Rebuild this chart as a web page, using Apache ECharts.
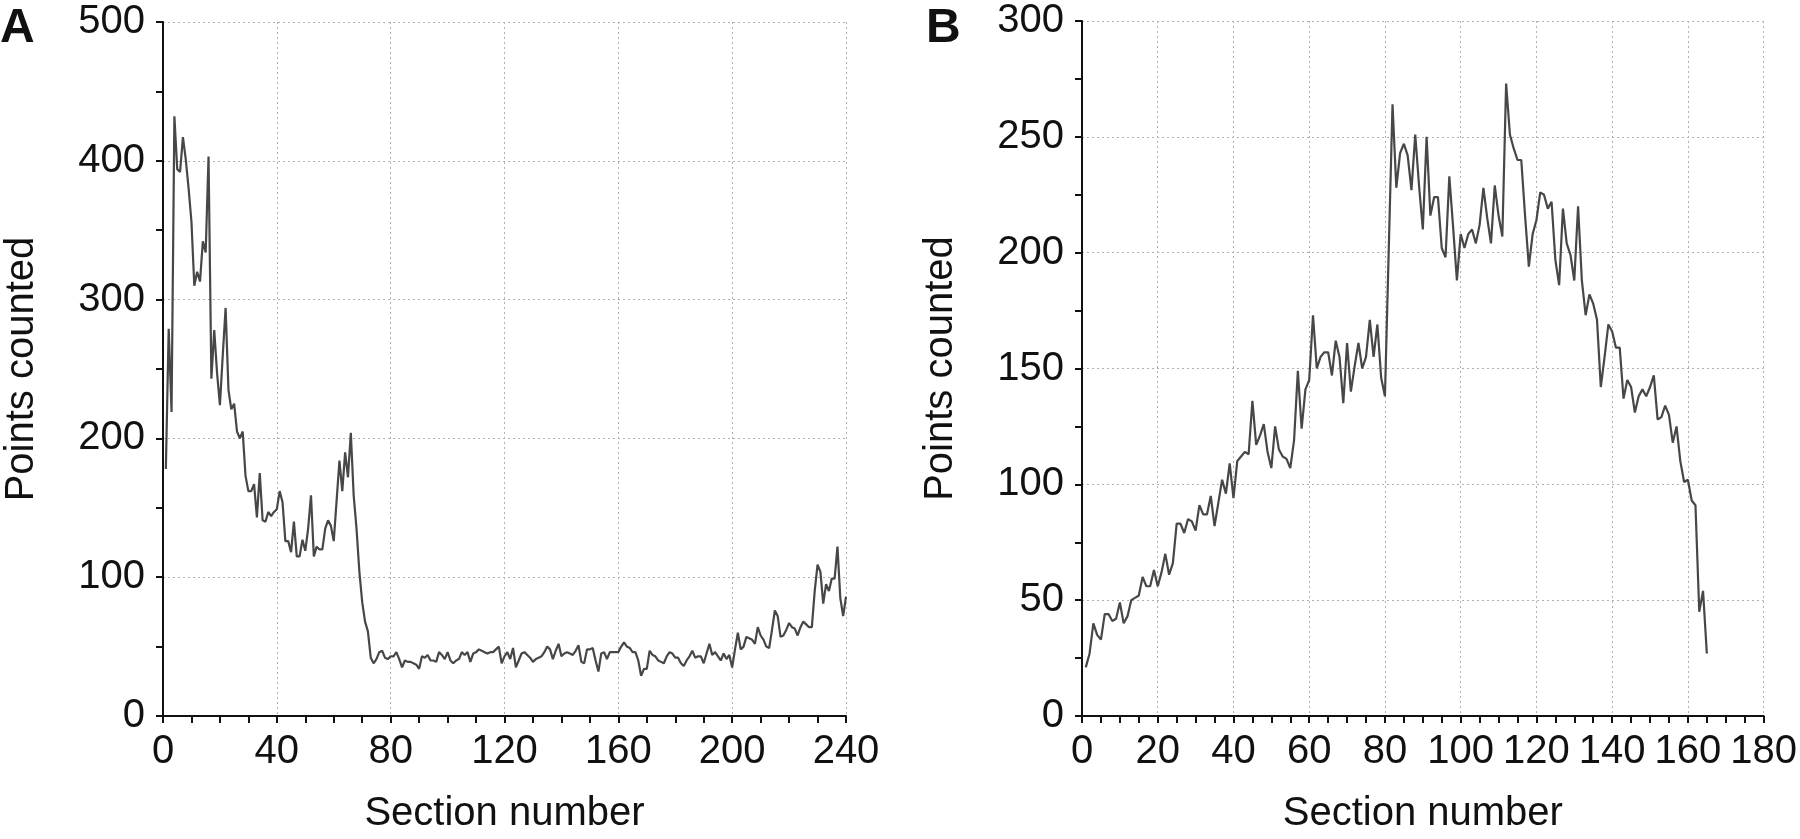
<!DOCTYPE html>
<html>
<head>
<meta charset="utf-8">
<script src="https://cdn.jsdelivr.net/npm/echarts@6/dist/echarts.min.js"></script>
<style>
html,body{margin:0;padding:0;background:#fff;}
#chart{width:1800px;height:839px;}
</style>
</head>
<body>
<div id="chart"></div>
<script>
// Panel A: sections 1..240
const sectionsA_start = 1;
const valuesA = [
178,279,219,432,394,392,417,401,380,356,
310,320,313,342,334,403,243,278,247,224,
260,294,235,221,225,205,200,205,173,162,
162,167,143,175,141,140,147,144,147,149,
162,154,126,126,118,140,115,115,127,119,
135,159,115,122,120,120,135,141,137,126,
155,184,162,190,172,204,159,135,104,82,
68,61,42,38,41,46,47,42,41,43,
43,46,41,35,40,39,39,38,37,34,
43,42,44,40,40,39,46,44,41,46,
40,38,40,41,46,44,46,39,45,46,
48,47,46,45,46,46,48,50,38,43,
46,41,49,35,40,45,46,44,42,39,
41,42,43,46,50,48,41,47,52,43,
45,46,45,44,47,51,39,38,48,48,
49,40,32,45,46,41,46,46,46,46,
50,53,50,49,46,46,40,29,34,34,
47,44,43,40,39,38,43,46,45,42,
42,38,36,40,43,47,42,43,43,38,
45,52,44,46,43,40,45,41,44,35,
48,60,48,50,57,56,55,52,64,58,
55,50,49,62,76,72,57,58,62,67,
64,63,58,64,68,66,64,64,90,109,
104,81,95,90,99,99,122,85,72,86
];
// Panel B: sections 1..165
const sectionsB_start = 1;
const valuesB = [
21,27,40,35,33,44,44,41,42,49,
40,43,50,51,52,60,56,56,63,56,
62,70,61,66,83,83,79,85,84,80,
91,87,87,95,82,92,102,96,109,94,
110,112,114,113,136,117,121,126,114,107,
125,115,112,111,107,119,149,124,141,145,
173,150,155,157,157,147,162,155,135,161,
140,151,161,150,155,171,155,169,146,138,
201,264,228,243,247,242,227,251,229,210,
250,216,224,224,202,198,233,211,188,208,
202,208,210,204,212,228,215,204,229,216,
207,273,251,245,240,240,216,194,208,214,
226,225,219,222,197,186,219,204,199,188,
220,188,173,182,178,171,142,155,169,166,
159,159,137,145,142,131,138,141,138,142,
147,128,129,134,130,118,125,110,101,102,
93,91,45,54,27
];
const panelLabels = ['A','B'];
const xTitle = 'Section number';
const yTitle = 'Points counted';

const dataA = valuesA.map((v,i)=>[sectionsA_start+i, v]);
const dataB = valuesB.map((v,i)=>[sectionsB_start+i, v]);

const FONT = '"Liberation Sans", Arial, Helvetica, sans-serif';
const axisLineStyle = {show:true, lineStyle:{color:'#111', width:2}};
const tickStyle = {show:true, inside:false, length:7, lineStyle:{color:'#111', width:2}};
const minorTick = (n)=>({show:true, splitNumber:n, length:7, lineStyle:{color:'#111', width:2}});
const splitLine = {show:true, lineStyle:{color:'#b0b0b0', width:1, type:[2,3]}};
const labelStyle = (m)=>({fontSize:40, color:'#111', fontFamily:FONT, margin:m});

function xAx(idx, max, interval){
  return {type:'value', gridIndex:idx, min:0, max:max, interval:interval,
    axisLine:axisLineStyle, axisTick:tickStyle, minorTick:minorTick(4),
    splitLine:splitLine, axisLabel:labelStyle(16),
    name:xTitle, nameLocation:'middle', nameGap:78,
    nameTextStyle:{fontSize:40, color:'#111', fontFamily:FONT}};
}
function yAx(idx, max, interval){
  return {type:'value', gridIndex:idx, min:0, max:max, interval:interval,
    axisLine:axisLineStyle, axisTick:tickStyle, minorTick:minorTick(2),
    splitLine:splitLine, axisLabel:labelStyle(18),
    name:yTitle, nameLocation:'middle', nameGap:121,
    nameTextStyle:{fontSize:40, color:'#111', fontFamily:FONT}};
}

const chart = echarts.init(document.getElementById('chart'), null, {renderer:'canvas'});
chart.setOption({
  animation:false,
  backgroundColor:'#fff',
  title:[
    {text:panelLabels[0], left:0, top:5, padding:0, textStyle:{fontSize:48, fontWeight:'bold', color:'#111', fontFamily:FONT}},
    {text:panelLabels[1], left:926, top:5, padding:0, textStyle:{fontSize:48, fontWeight:'bold', color:'#111', fontFamily:FONT}}
  ],
  grid:[
    {left:163, top:22, width:683, height:700},
    {left:1082, top:21, width:683, height:702}
  ],
  xAxis:[xAx(0,240,40), xAx(1,180,20)],
  yAxis:[yAx(0,500,100), yAx(1,300,50)],
  series:[
    {type:'line', xAxisIndex:0, yAxisIndex:0, data:dataA, showSymbol:false, symbol:'none',
     lineStyle:{color:'#474747', width:2.2}},
    {type:'line', xAxisIndex:1, yAxisIndex:1, data:dataB, showSymbol:false, symbol:'none',
     lineStyle:{color:'#474747', width:2.2}}
  ]
});
</script>
</body>
</html>
